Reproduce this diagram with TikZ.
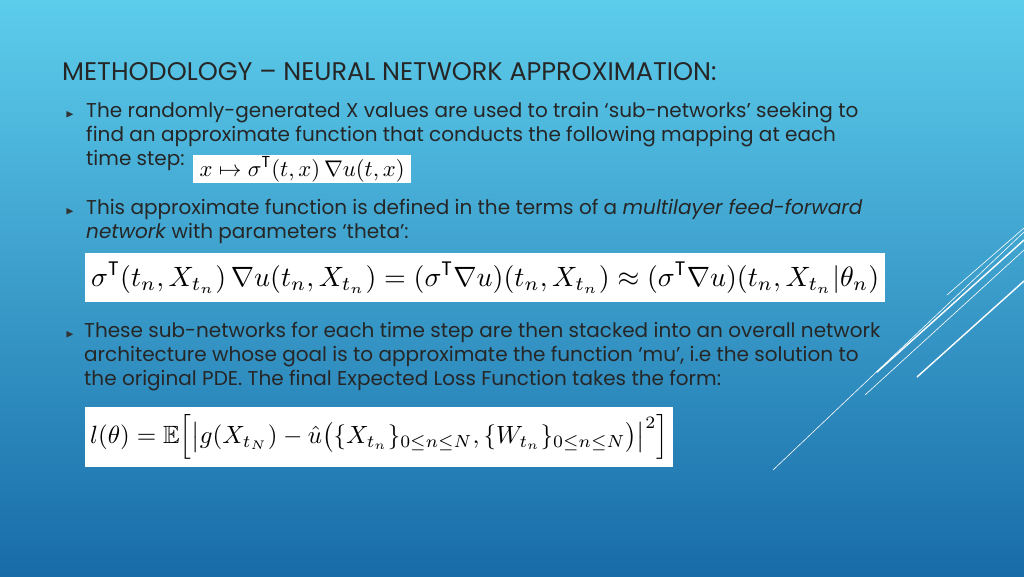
\documentclass[tikz,border=0pt]{standalone}
\usepackage{amsmath,amssymb}
\usepackage{graphicx}
\usepackage{fontspec}
\setmainfont{Poppins}
\definecolor{bgtop}{RGB}{93,205,236}
\definecolor{bgbot}{RGB}{24,108,168}
\begin{document}
\begin{tikzpicture}[x=1pt,y=-1pt,
  body/.style={anchor=north west,inner sep=0pt,align=left,text=black!85,font=\fontsize{20}{24}\selectfont},
  mbox/.style={fill=white,inner sep=0pt,anchor=north west},
  bul/.style={text=black!80,inner sep=0pt,font=\fontsize{11}{11}\selectfont},
  deco/.style={white,line width=#1}]
\shade[top color=bgtop,bottom color=bgbot] (0,0) rectangle (1024,576);
\useasboundingbox (0,0) rectangle (1024,576);
\draw[deco=0.6pt] (773,470) -- (1024,232);
\draw[deco=0.6pt] (947,295) -- (1024,228);
\draw[deco=1.4pt] (877,372) -- (1024,240);
\draw[deco=0.6pt] (865,395) -- (1024,250);
\draw[deco=1.4pt] (917,377) -- (1024,281);
\node (title) [anchor=west,inner sep=0pt,text=black!85,font=\fontsize{25.5}{28}\selectfont] at (62,72) {METHODOLOGY -- NEURAL NETWORK APPROXIMATION:};
\node (b1) [bul] at (70,115) {$\blacktriangleright$};
\node (b2) [bul] at (70,212) {$\blacktriangleright$};
\node (b3) [bul] at (70,335) {$\blacktriangleright$};
\node (t1) [body] at (86,102) {The randomly-generated X values are used to train ‘sub-networks’ seeking to\\find an approximate function that conducts the following mapping at each\\time step:};
\node (m1) [mbox,minimum width=218pt,minimum height=28pt] at (193,155) {\resizebox{205pt}{!}{$x\mapsto\sigma^{\mathrm{T}}(t,x)\,\nabla u(t,x)$}};
\node (t2) [body] at (86,199) {This approximate function is defined in the terms of a \textit{multilayer feed-forward}\\\textit{network} with parameters ‘theta’:};
\node (m2) [mbox,minimum width=800pt,minimum height=49pt] at (85,253) {\resizebox{788pt}{!}{$\sigma^{\mathrm{T}}(t_n,X_{t_n})\,\nabla u(t_n,X_{t_n})=(\sigma^{\mathrm{T}}\nabla u)(t_n,X_{t_n})\approx(\sigma^{\mathrm{T}}\nabla u)(t_n,X_{t_n}|\theta_n)$}};
\node (t3) [body] at (84,322) {These sub-networks for each time step are then stacked into an overall network\\architecture whose goal is to approximate the function ‘mu’, i.e the solution to\\the original PDE. The final Expected Loss Function takes the form:};
\node (m3) [mbox,minimum width=588pt,minimum height=60pt] at (85,407) {\resizebox{578pt}{!}{$l(\theta)=\mathbb{E}\Big[\big|g(X_{t_N})-\hat u\big(\{X_{t_n}\}_{0\le n\le N},\{W_{t_n}\}_{0\le n\le N}\big)\big|^2\Big]$}};
\end{tikzpicture}
\end{document}
